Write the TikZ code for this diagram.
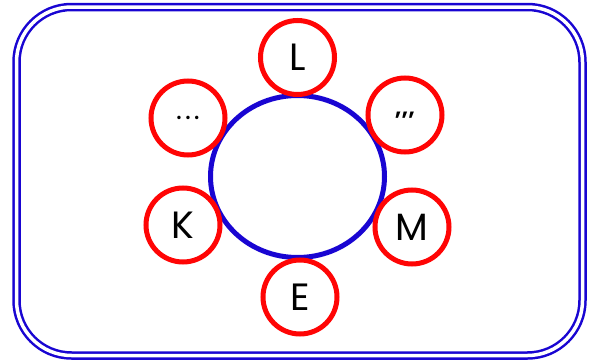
\documentclass[tikz,border=0pt]{standalone}
\usepackage{fontspec}
\setmainfont{Poppins}
\usepackage{xcolor}
\usetikzlibrary{positioning, shapes.geometric}

\definecolor{ringblue}{RGB}{25,5,210}
\definecolor{ringred}{RGB}{255,5,5}

\begin{document}
\begin{tikzpicture}[x=1pt, y=-1pt,
    hub/.style={ellipse, draw=ringblue, line width=5pt, minimum width=174pt, minimum height=162pt, inner sep=0pt},
    leaf/.style={circle, draw=ringred, line width=5pt, fill=white, minimum size=74pt, inner sep=0pt, font=\fontsize{38}{40}\selectfont},
    frame/.style={draw=ringblue, double=white, line width=2.5pt, double distance=3.5pt, rounded corners=55pt}]
    \useasboundingbox (0,0) rectangle (598,364);
    \draw[frame] (16.5,7) rectangle (582.5,355.5);
    \node[hub] (hub) at (297.5,176.5) {};
    \node[leaf] (l) at (297.5,57.5) {L};
    \node[leaf, font=\fontsize{22}{24}\selectfont\bfseries] (commas) at (405,115) {\raisebox{-4pt}{,\kern0.5pt,\kern0.5pt,}};
    \node[leaf] (m) at (412,227) {M};
    \node[leaf] (e) at (300,297) {E};
    \node[leaf] (k) at (183,225) {K};
    \node[leaf, font=\fontsize{28}{30}\selectfont] (dots) at (188,118) {\raisebox{-3pt}{.\kern3pt.\kern3pt.}};
\end{tikzpicture}
\end{document}
